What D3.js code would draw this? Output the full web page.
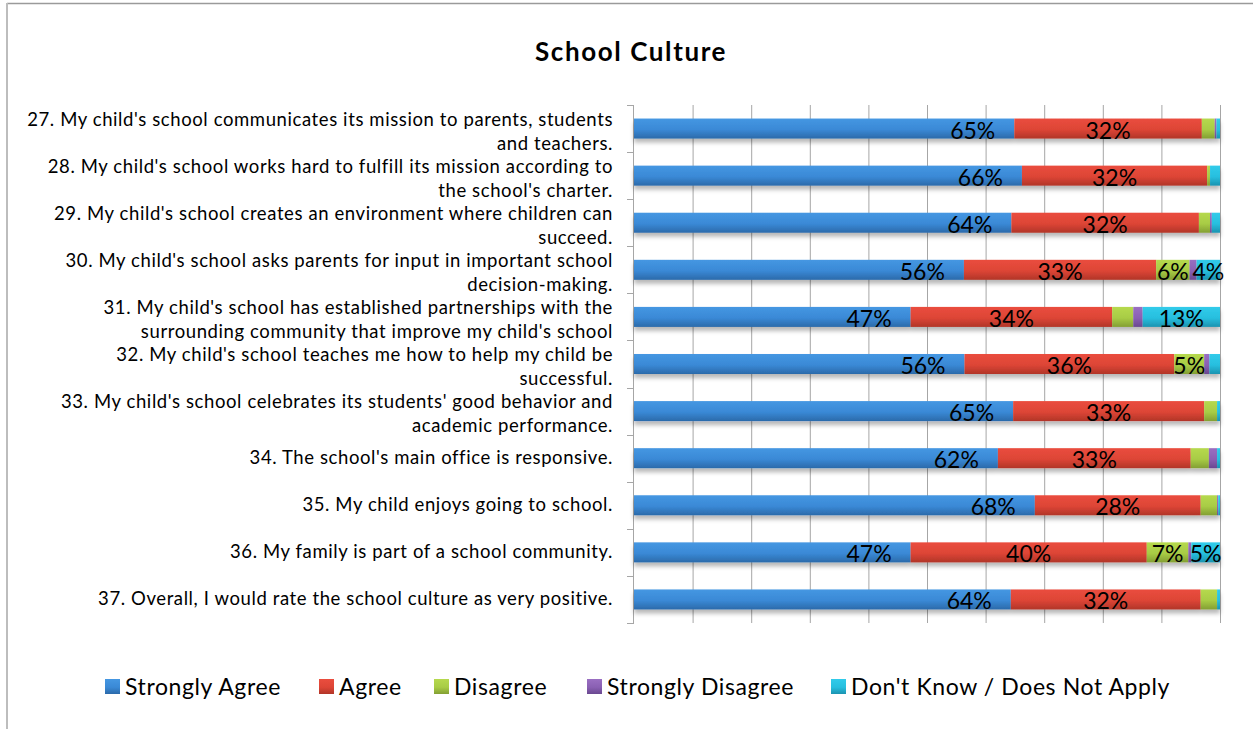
<!DOCTYPE html>
<html>
<head>
<meta charset="utf-8">
<script src="https://cdn.jsdelivr.net/npm/d3@7/dist/d3.min.js"></script>
<style>
  html, body { margin: 0; padding: 0; background: #ffffff; }
  svg { display: block; font-family: Lato, "Open Sans", sans-serif; }
</style>
</head>
<body>
<svg id="chart" width="1253" height="729"></svg>
<script>
// Survey items (each entry holds the wrapped lines of its label)
const categoryLines = [
  ["27. My child's school communicates its mission to parents, students", "and teachers."],
  ["28. My child's school works hard to fulfill its mission according to", "the school's charter."],
  ["29. My child's school creates an environment where children can", "succeed."],
  ["30. My child's school asks parents for input in important school", "decision-making."],
  ["31. My child's school has established partnerships with the", "surrounding community that improve my child's school"],
  ["32. My child's school teaches me how to help my child be", "successful."],
  ["33. My child's school celebrates its students' good behavior and", "academic performance."],
  ["34. The school's main office is responsive."],
  ["35. My child enjoys going to school."],
  ["36. My family is part of a school community."],
  ["37. Overall, I would rate the school culture as very positive."]
];

const seriesNames = ["Strongly Agree", "Agree", "Disagree", "Strongly Disagree", "Don't Know / Does Not Apply"];

// Percent of responses per item
const stronglyAgree    = [64.9, 66.2, 64.4, 56.3, 47.2, 56.4, 64.7, 62.1, 68.4, 47.2, 64.3];
const agree            = [32.0, 31.6, 32.0, 32.8, 34.4, 35.8, 32.6, 32.9, 28.3, 40.3, 32.4];
const disagree         = [2.2, 0.5, 1.9, 5.7, 3.6, 5.1, 2.2, 3.1, 2.8, 7.1, 2.8];
const stronglyDisagree = [0.3, 0.0, 0.3, 1.2, 1.6, 0.9, 0.0, 1.4, 0.2, 0.5, 0.0];
const dontKnow         = [0.6, 1.7, 1.4, 4.0, 13.2, 1.8, 0.5, 0.5, 0.3, 4.9, 0.5];

const xTicks = [0, 10, 20, 30, 40, 50, 60, 70, 80, 90, 100];

const seriesValues = [stronglyAgree, agree, disagree, stronglyDisagree, dontKnow];
const seriesColors = [
  ["#4597e2", "#3a89d6", "#2b6aaa"],
  ["#ea4d3e", "#dd4536", "#b13528"],
  ["#b6d94e", "#a8cc45", "#839f33"],
  ["#9a6fc2", "#8a60b3", "#6a4890"],
  ["#31cbea", "#27bfdf", "#1b93b0"]
];

const rows = categoryLines.map((lines, i) => {
  const r = { i, lines };
  seriesNames.forEach((s, k) => { r[s] = seriesValues[k][i]; });
  return r;
});

const svg = d3.select("#chart");
const W = 1253, H = 729;

// Outer chart frame
svg.append("line").attr("x1", 7).attr("x2", W).attr("y1", 3.5).attr("y2", 3.5)
  .attr("stroke", "#9a9a9a").attr("stroke-width", 1.5);
svg.append("line").attr("x1", 7).attr("x2", 7).attr("y1", 3).attr("y2", H)
  .attr("stroke", "#bdbdbd").attr("stroke-width", 2);

const defs = svg.append("defs");
seriesColors.forEach((c, k) => {
  const g = defs.append("linearGradient").attr("id", "grad" + k)
    .attr("x1", 0).attr("y1", 0).attr("x2", 0).attr("y2", 1);
  g.append("stop").attr("offset", "0%").attr("stop-color", c[0]);
  g.append("stop").attr("offset", "55%").attr("stop-color", c[1]);
  g.append("stop").attr("offset", "100%").attr("stop-color", c[2]);
});
const shadow = defs.append("filter").attr("id", "barShadow")
  .attr("x", "-2%").attr("y", "-30%").attr("width", "104%").attr("height", "190%");
shadow.append("feDropShadow").attr("dx", 0).attr("dy", 4).attr("stdDeviation", 2.2)
  .attr("flood-color", "#000").attr("flood-opacity", 0.28);

// Title
svg.append("text").attr("x", 631).attr("y", 61).attr("text-anchor", "middle")
  .attr("font-size", 26).attr("font-weight", 700).attr("letter-spacing", 1.6)
  .attr("fill", "#000").text("School Culture");

const plot = { left: 634, right: 1220, top: 105, bottom: 623 };

const x = d3.scaleLinear().domain([0, 100]).range([plot.left, plot.right]);
const y = d3.scaleBand().domain(rows.map(d => d.i)).range([plot.top, plot.bottom])
  .paddingInner(0.575).paddingOuter(0.2875);

// Vertical gridlines
svg.append("g").selectAll("line").data(xTicks.slice(1)).join("line")
  .attr("x1", d => x(d) + 0.5).attr("x2", d => x(d) + 0.5)
  .attr("y1", plot.top).attr("y2", plot.bottom)
  .attr("stroke", "#a6a6a6").attr("stroke-width", 1);

// Category axis with ticks on band boundaries
const axisG = svg.append("g");
axisG.append("line").attr("x1", plot.left - 0.5).attr("x2", plot.left - 0.5)
  .attr("y1", plot.top).attr("y2", plot.bottom).attr("stroke", "#a6a6a6");
const boundaries = d3.range(rows.length + 1).map(k => plot.top + k * y.step());
axisG.selectAll("line.tick").data(boundaries).join("line").attr("class", "tick")
  .attr("x1", plot.left - 7).attr("x2", plot.left)
  .attr("y1", d => Math.round(d) + 0.5).attr("y2", d => Math.round(d) + 0.5)
  .attr("stroke", "#a6a6a6");

// Category labels
const labelG = svg.append("g").attr("font-size", 18.5).attr("letter-spacing", 0.6).attr("fill", "#000");
rows.forEach(d => {
  const cy = y(d.i) + y.bandwidth() / 2;
  const lineH = 24;
  const n = d.lines.length;
  const t = labelG.append("text").attr("text-anchor", "end");
  d.lines.forEach((ln, k) => {
    t.append("tspan").attr("x", 613)
      .attr("y", cy + 6 + (k - (n - 1) / 2) * lineH + (n > 1 ? 3 : 0))
      .text(ln);
  });
});

// Stacked bars
const stack = d3.stack().keys(seriesNames);
const stacked = stack(rows);

const rowG = svg.append("g").selectAll("g.row").data(rows).join("g")
  .attr("class", "row").attr("filter", "url(#barShadow)");
rowG.each(function(d) {
  const g = d3.select(this);
  stacked.forEach((layer, k) => {
    const seg = layer[d.i];
    if (seg[1] - seg[0] <= 0) return;
    g.append("rect")
      .attr("x", x(seg[0]))
      .attr("y", y(d.i))
      .attr("width", x(seg[1]) - x(seg[0]))
      .attr("height", y.bandwidth())
      .attr("fill", `url(#grad${k})`);
  });
});

// Value labels
const fmt = v => Math.round(v) + "%";
const valG = svg.append("g").attr("font-size", 23).attr("fill", "#000");
stacked.forEach((layer, k) => {
  layer.forEach((seg, i) => {
    const v = seg[1] - seg[0];
    if (v < 3.8) return;
    const base = y(i) + y.bandwidth() / 2 + 10;
    if (k === 0) {
      valG.append("text").attr("x", x(seg[1]) - 19).attr("y", base)
        .attr("text-anchor", "end").text(fmt(v));
    } else {
      valG.append("text").attr("x", (x(seg[0]) + x(seg[1])) / 2).attr("y", base)
        .attr("text-anchor", "middle").text(fmt(v));
    }
  });
});

// Legend
const legendX = [105, 319, 434, 587, 831];
const legG = svg.append("g").attr("font-size", 23).attr("letter-spacing", 0.6).attr("fill", "#000");
seriesNames.forEach((s, k) => {
  legG.append("rect").attr("x", legendX[k]).attr("y", 679).attr("width", 15).attr("height", 15)
    .attr("fill", `url(#grad${k})`);
  legG.append("text").attr("x", legendX[k] + 20).attr("y", 695).text(s);
});
</script>
</body>
</html>
